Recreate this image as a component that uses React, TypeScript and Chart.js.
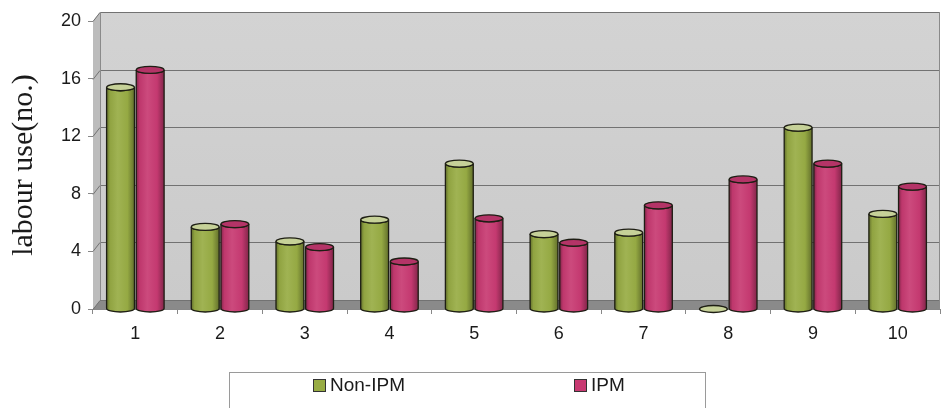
import React, { useEffect, useRef } from "react";
import { Chart, registerables } from "chart.js";

Chart.register(...registerables);

const categories = ["1", "2", "3", "4", "5", "6", "7", "8", "9", "10"];
const nonIpmValues = [15.4, 5.7, 4.7, 6.2, 10.1, 5.2, 5.3, 0, 12.6, 6.6];
const ipmValues = [16.6, 5.9, 4.3, 3.3, 6.3, 4.6, 7.2, 9.0, 10.1, 8.5];
const seriesLabels = ["Non-IPM", "IPM"];
const seriesColors = ["#98ac44", "#c83a72"];
const yTickValues = [0, 4, 8, 12, 16, 20];
const yTitle = "labour use(no.)";

const DX = 7;
const DY = 9;

function shade(hex: string, amt: number): string {
  const n = parseInt(hex.slice(1), 16);
  let r = (n >> 16) & 255, g = (n >> 8) & 255, b = n & 255;
  const f = (c: number) =>
    Math.round(amt >= 0 ? c + (255 - c) * amt : c * (1 + amt));
  r = f(r); g = f(g); b = f(b);
  return `rgb(${r},${g},${b})`;
}

const wallPlugin = {
  id: "wall",
  beforeDatasetsDraw(chart: any) {
    const { ctx, chartArea } = chart;
    const { left, right, top, bottom } = chartArea;
    const y = chart.scales.y;
    const bl = left + DX, bt = top - DY, bb = bottom - DY;
    ctx.save();
    const wg = ctx.createLinearGradient(0, bt, 0, bb);
    wg.addColorStop(0, "#d3d3d3");
    wg.addColorStop(1, "#cacaca");
    ctx.fillStyle = wg;
    ctx.fillRect(bl, bt, right - bl, bb - bt);
    ctx.fillStyle = "#bcbcbc";
    ctx.beginPath();
    ctx.moveTo(left, top);
    ctx.lineTo(bl, bt);
    ctx.lineTo(bl, bb);
    ctx.lineTo(left, bottom);
    ctx.closePath();
    ctx.fill();
    ctx.fillStyle = "#8a8a8a";
    ctx.beginPath();
    ctx.moveTo(left, bottom);
    ctx.lineTo(bl, bb);
    ctx.lineTo(right, bb);
    ctx.lineTo(right, bottom);
    ctx.closePath();
    ctx.fill();
    ctx.strokeStyle = "#727272";
    ctx.lineWidth = 1;
    for (const v of yTickValues) {
      const yy = Math.round(y.getPixelForValue(v)) + 0.5;
      ctx.beginPath();
      ctx.moveTo(left, yy);
      ctx.lineTo(bl, yy - DY);
      ctx.lineTo(right, yy - DY);
      ctx.stroke();
    }
    ctx.strokeStyle = "#8a8a8a";
    ctx.beginPath();
    ctx.moveTo(bl + 0.5, bt);
    ctx.lineTo(bl + 0.5, bb);
    ctx.moveTo(right - 0.5, bt);
    ctx.lineTo(right - 0.5, bottom);
    ctx.stroke();
    ctx.restore();
  },
};

const cylinderPlugin = {
  id: "cylinders",
  afterDatasetsDraw(chart: any) {
    const { ctx } = chart;
    ctx.save();
    chart.data.datasets.forEach((ds: any, di: number) => {
      const meta = chart.getDatasetMeta(di);
      const color = ds.backgroundColor as string;
      meta.data.forEach((el: any) => {
        const { x, y, base, width } = el.getProps(["x", "y", "base", "width"], true);
        const w = width;
        const l = x - w / 2, r = x + w / 2;
        const ry = 3.5;
        const g = ctx.createLinearGradient(l, 0, r, 0);
        g.addColorStop(0, shade(color, -0.35));
        g.addColorStop(0.12, shade(color, -0.05));
        g.addColorStop(0.4, shade(color, 0.08));
        g.addColorStop(0.75, shade(color, -0.02));
        g.addColorStop(1, shade(color, -0.35));
        ctx.lineWidth = 1.3;
        ctx.strokeStyle = "#1e1e14";
        if (base - y > 0.5) {
          ctx.beginPath();
          ctx.moveTo(l, y);
          ctx.lineTo(l, base);
          ctx.ellipse(x, base, w / 2, ry, 0, Math.PI, 0, true);
          ctx.lineTo(r, y);
          ctx.ellipse(x, y, w / 2, ry, 0, 0, Math.PI, false);
          ctx.closePath();
          ctx.fillStyle = g;
          ctx.fill();
          ctx.stroke();
        }
        ctx.beginPath();
        ctx.ellipse(x, y, w / 2, ry, 0, 0, Math.PI * 2);
        ctx.fillStyle = shade(color, di === 0 ? 0.45 : -0.1);
        ctx.fill();
        ctx.stroke();
      });
    });
    ctx.restore();
  },
};

const legendPlugin = {
  id: "boxLegend",
  afterDraw(chart: any) {
    const { ctx } = chart;
    ctx.save();
    ctx.fillStyle = "#ffffff";
    ctx.strokeStyle = "#9a9a9a";
    ctx.lineWidth = 1;
    ctx.fillRect(229.5, 372.5, 476, 40);
    ctx.strokeRect(229.5, 372.5, 476, 40);
    const itemX = [313, 574];
    ctx.font = "19px 'Liberation Sans', Arial, sans-serif";
    ctx.textBaseline = "middle";
    ctx.textAlign = "left";
    chart.data.datasets.forEach((ds: any, i: number) => {
      const sx = itemX[i];
      ctx.fillStyle = ds.backgroundColor;
      ctx.fillRect(sx + 0.5, 379.5, 12, 12);
      ctx.strokeStyle = "#333";
      ctx.strokeRect(sx + 0.5, 379.5, 12, 12);
      ctx.fillStyle = "#1a1a1a";
      ctx.fillText(ds.label, sx + 17, 386);
    });
    ctx.restore();
  },
};

export default function App() {
  const ref = useRef<HTMLCanvasElement | null>(null);
  useEffect(() => {
    document.body.style.margin = "0";
    document.body.style.background = "#ffffff";
    const canvas = ref.current;
    if (!canvas) return;
    const chart = new Chart(canvas, {
      type: "bar",
      data: {
        labels: categories,
        datasets: [
          { label: seriesLabels[0], data: nonIpmValues, backgroundColor: seriesColors[0], borderWidth: 0 },
          { label: seriesLabels[1], data: ipmValues, backgroundColor: seriesColors[1], borderWidth: 0 },
        ],
      },
      options: {
        responsive: false,
        animation: false,
        maintainAspectRatio: false,
        layout: { padding: { left: 0, right: 3, top: 21, bottom: 59 } },
        datasets: { bar: { categoryPercentage: 0.7, barPercentage: 0.94 } } as any,
        plugins: {
          legend: { display: false },
          tooltip: { enabled: false },
        },
        scales: {
          x: {
            offset: true,
            grid: { display: true, drawOnChartArea: false, tickLength: 5, color: "#888", offset: true },
            border: { display: true, color: "#888" },
            ticks: {
              color: "#1a1a1a",
              padding: 9,
              font: { family: "'Liberation Sans', Arial, sans-serif", size: 18 },
            },
            afterFit: (s: any) => { s.height = 40; },
          },
          y: {
            min: 0,
            max: 20,
            afterBuildTicks: (s: any) => { s.ticks = yTickValues.map((v) => ({ value: v })); },
            grid: { display: true, drawOnChartArea: false, tickLength: 5, color: "#888" },
            border: { display: true, color: "#888" },
            ticks: {
              color: "#1a1a1a",
              padding: 7,
              font: { family: "'Liberation Sans', Arial, sans-serif", size: 18 },
            },
            title: {
              display: true,
              text: yTitle,
              color: "#1a1a1a",
              padding: { top: 6, bottom: 0 },
              font: { family: "'Liberation Serif', 'Times New Roman', serif", size: 30, weight: "normal" },
            },
            afterFit: (s: any) => { s.width = 93; },
          },
        },
      },
      plugins: [wallPlugin, cylinderPlugin, legendPlugin],
    });
    return () => chart.destroy();
  }, []);
  return (
    <div style={{ width: 943, height: 408, background: "#fff" }}>
      <canvas ref={ref} width={943} height={408} style={{ display: "block" }} />
    </div>
  );
}
